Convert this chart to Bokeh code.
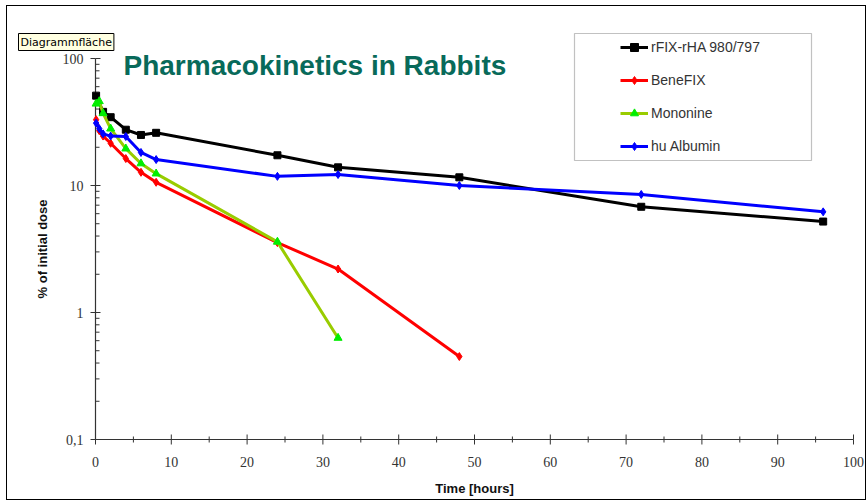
import math
from bokeh.plotting import figure
from bokeh.models import Range1d, Legend, LegendItem, Label, BoxAnnotation
from bokeh.core.properties import value
from bokeh.embed import file_html
from bokeh.resources import INLINE

# ---- data ----
t_rfix = [0.08, 1, 2, 4, 6, 8, 24, 32, 48, 72, 96]
v_rfix = [51, 38, 34.5, 27.5, 25, 26, 17.3, 13.9, 11.6, 6.8, 5.2]

t_benefix = [0.08, 0.5, 1, 2, 4, 6, 8, 24, 32, 48]
v_benefix = [33, 27, 24.5, 21.5, 16.3, 12.7, 10.6, 3.55, 2.2, 0.45]

t_mononine = [0.08, 0.5, 1, 2, 4, 6, 8, 24, 32]
v_mononine = [44, 46, 37, 28, 19.5, 14.9, 12.4, 3.6, 0.63]

t_albumin = [0.08, 0.5, 1, 2, 4, 6, 8, 24, 32, 48, 72, 96]
v_albumin = [31, 28, 25.5, 24.5, 24.3, 18.2, 16.0, 11.8, 12.2, 10.0, 8.5, 6.2]

series_names = ["rFIX-rHA 980/797", "BeneFIX", "Mononine", "hu Albumin"]
y_ticks = [0.1, 1, 10, 100]
x_ticks = [0, 10, 20, 30, 40, 50, 60, 70, 80, 90, 100]

title_text = "Pharmacokinetics in Rabbits"
x_label = "Time [hours]"
y_label = "% of initial dose"
tooltip_text = "Diagrammfläche"

# ---- geometry (page pixels) ----
CANVAS_X0, CANVAS_Y0 = 7, 6
CANVAS_X1, CANVAS_Y1 = 865, 499
X0_PX, X100_PX, Y100_PX, Y01_PX = 95, 853, 58, 439
PX_PER_X = (X100_PX - X0_PX) / 100.0
PX_PER_DEC = (Y01_PX - Y100_PX) / 3.0

def dx(px):
    return (px - X0_PX) / PX_PER_X

def dy(py):
    return 10 ** (2 - (py - Y100_PX) / PX_PER_DEC)

W = CANVAS_X1 - CANVAS_X0
H = CANVAS_Y1 - CANVAS_Y0

# the plot frame covers the whole canvas; both axes are drawn on the scales
p = figure(width=W, height=H,
           x_range=Range1d(dx(CANVAS_X0), dx(CANVAS_X1)),
           y_range=Range1d(dy(CANVAS_Y1), dy(CANVAS_Y0)),
           y_axis_type="log", x_axis_location=None, y_axis_location=None,
           output_backend="svg", toolbar_location=None,
           min_border_left=0, min_border_right=0, min_border_top=0, min_border_bottom=0)
p.styles = {"margin-left": f"{CANVAS_X0}px", "margin-top": f"{CANVAS_Y0}px",
            "outline": "1px solid black"}
p.outline_line_color = None
p.xgrid.grid_line_color = None
p.ygrid.grid_line_color = None
p.background_fill_color = "white"
p.border_fill_color = "white"

AXIS_COLOR = "#333333"
TICK_FONT = value("Liberation Sans Narrow")
LABEL_FONT = value("Liberation Sans")
x0, y0 = x_ticks[0], y_ticks[0]

# ---- x axis ----
x_minor = [(a + b) / 2 for a, b in zip(x_ticks[:-1], x_ticks[1:])]
p.segment(x0=[x_ticks[0]], y0=[y0], x1=[x_ticks[-1]], y1=[y0],
          line_color=AXIS_COLOR, line_width=1.2)
for ang in (math.pi / 2, -math.pi / 2):
    p.ray(x=x_ticks, y=[y0] * len(x_ticks), length=5, length_units="screen",
          angle=ang, line_color=AXIS_COLOR, line_width=1)
    p.ray(x=x_minor, y=[y0] * len(x_minor), length=3, length_units="screen",
          angle=ang, line_color=AXIS_COLOR, line_width=1)
p.text(x=x_ticks, y=[y0] * len(x_ticks), text=[str(v) for v in x_ticks], y_offset=22,
       text_align="center", text_baseline="middle", text_font=TICK_FONT,
       text_font_size="14px", text_color=AXIS_COLOR)
p.text(x=[(x_ticks[0] + x_ticks[-1]) / 2], y=[y0], text=[x_label], y_offset=49,
       text_align="center", text_baseline="middle", text_font=LABEL_FONT,
       text_font_size="13px", text_font_style="bold", text_color="#111111")

# ---- y axis ----
y_minor = []
for d in y_ticks[:-1]:
    for m in range(2, 10):
        y_minor.append(d * m)
y_tick_labels = [f"{v:g}".replace(".", ",") for v in y_ticks]

p.segment(x0=[x0], y0=[y_ticks[0]], x1=[x0], y1=[y_ticks[-1]],
          line_color=AXIS_COLOR, line_width=1.2)
for ang in (0, math.pi):
    p.ray(x=[x0] * len(y_ticks), y=y_ticks, length=5, length_units="screen",
          angle=ang, line_color=AXIS_COLOR, line_width=1)
p.ray(x=[x0] * len(y_minor), y=y_minor, length=4, length_units="screen",
      angle=0, line_color=AXIS_COLOR, line_width=1)
p.text(x=[x0] * len(y_ticks), y=y_ticks, text=y_tick_labels, x_offset=-12,
       text_align="right", text_baseline="middle", text_font=TICK_FONT,
       text_font_size="14px", text_color=AXIS_COLOR)
p.text(x=[dx(42)], y=[math.sqrt(y_ticks[0] * y_ticks[-1])], text=[y_label],
       angle=math.pi / 2, text_align="center", text_baseline="middle",
       text_font=LABEL_FONT, text_font_size="13px",
       text_font_style="bold", text_color="#111111")

# ---- series ----
l1 = p.line(t_rfix, v_rfix, line_color="black", line_width=3)
s1 = p.scatter(t_rfix, v_rfix, marker="square", size=7, color="black")
l2 = p.line(t_benefix, v_benefix, line_color="#ff0000", line_width=3)
s2 = p.scatter(t_benefix, v_benefix, marker="diamond", size=8, color="#ff0000")
l3 = p.line(t_mononine, v_mononine, line_color="#99cc00", line_width=3)
s3 = p.scatter(t_mononine, v_mononine, marker="triangle", size=8, color="#00ee00")
l4 = p.line(t_albumin, v_albumin, line_color="#0000ff", line_width=3)
s4 = p.scatter(t_albumin, v_albumin, marker="diamond", size=8, color="#0000ff")

legend = Legend(items=[LegendItem(label=series_names[0], renderers=[l1, s1]),
                       LegendItem(label=series_names[1], renderers=[l2, s2]),
                       LegendItem(label=series_names[2], renderers=[l3, s3]),
                       LegendItem(label=series_names[3], renderers=[l4, s4])],
                location=(620 - 4 - CANVAS_X0, CANVAS_Y1 - 160), padding=4, margin=0,
                spacing=13, label_height=20, glyph_height=20, glyph_width=28,
                label_standoff=3, border_line_alpha=0, background_fill_alpha=0,
                label_text_font="Liberation Sans", label_text_font_size="14px",
                label_text_color="#333333")
p.add_layout(legend)

# legend frame
p.add_layout(BoxAnnotation(left=dx(574), right=dx(811), top=dy(33), bottom=dy(160),
                           fill_alpha=0, line_color="#333333", line_width=1.2,
                           level="overlay"))

# title
p.add_layout(Label(x=dx(123), y=dy(65), text=title_text, text_font="Liberation Sans",
                   text_font_size="28px", text_font_style="bold", text_color="#086a5a",
                   text_baseline="alphabetic", text_align="left"))

# tooltip box ("Diagrammfläche")
p.add_layout(Label(x=dx(18), y=dy(50), text=tooltip_text, text_font="DejaVu Sans",
                   text_font_size="11px", text_color="black",
                   text_baseline="bottom", text_align="left",
                   background_fill_color="#ffffe1", border_line_color="black",
                   border_line_width=1, padding=2))

open("out.html", "w").write(file_html(p, INLINE))
